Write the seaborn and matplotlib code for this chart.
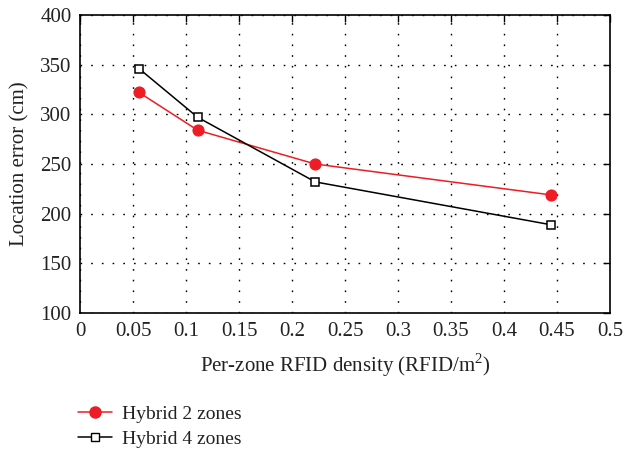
import matplotlib
matplotlib.use("Agg")
import matplotlib.pyplot as plt
import seaborn as sns
import pandas as pd

density = [0.0556, 0.111, 0.222, 0.444]
hybrid2 = [322, 284, 250, 219]
hybrid4 = [346, 297, 232, 189]
series_names = ["Hybrid 2 zones", "Hybrid 4 zones"]
xticks = [0, 0.05, 0.1, 0.15, 0.2, 0.25, 0.3, 0.35, 0.4, 0.45, 0.5]
xticklabels = ["0", "0.05", "0.1", "0.15", "0.2", "0.25", "0.3", "0.35", "0.4", "0.45", "0.5"]
yticks = [100, 150, 200, 250, 300, 350, 400]

df = pd.DataFrame({
    "x": density * 2,
    "y": hybrid2 + hybrid4,
    "series": [series_names[0]] * 4 + [series_names[1]] * 4,
})

sns.set_theme(style="white")
plt.rcParams["font.family"] = ["Liberation Serif", "DejaVu Serif"]
plt.rcParams["mathtext.fontset"] = "custom"
plt.rcParams["mathtext.rm"] = "Liberation Serif"

fig = plt.figure(figsize=(6.25, 4.5), dpi=100)
ax = fig.add_axes([0.128, 0.304, 0.848, 0.663])

sns.lineplot(data=df, x="x", y="y", hue="series", style="series",
             palette={series_names[0]: "#ee1c24", series_names[1]: "black"},
             markers={series_names[0]: "o", series_names[1]: "s"},
             dashes=False, ax=ax, linewidth=1.1, legend=False)
lines = ax.get_lines()
lines[0].set_markersize(8)
lines[0].set_markerfacecolor("#ee1c24")
lines[0].set_markeredgecolor("#ee1c24")
lines[1].set_markersize(6)
lines[1].set_markerfacecolor("white")
lines[1].set_markeredgecolor("black")
lines[1].set_markeredgewidth(1.1)

ax.set_xlim(0, 0.5)
ax.set_ylim(100, 400)
ax.set_xticks(xticks)
ax.set_xticklabels(xticklabels)
ax.set_yticks(yticks)
ax.grid(True, linestyle=(0, (1.2, 6.5)), color="black", linewidth=1.0)
ax.tick_params(direction="in", top=True, right=True, length=5, width=1,
               labelsize=15, colors="black", labelcolor="#222222", pad=6)
for s in ax.spines.values():
    s.set_color("black")
    s.set_linewidth(1.2)
ax.set_xlabel("Per-zone RFID density (RFID/m$^2$)", fontsize=15, color="#222222", labelpad=8)
ax.set_ylabel("Location error (cm)", fontsize=15, color="#222222", labelpad=8)

handles = [
    plt.Line2D([], [], color="#ee1c24", marker="o", markersize=8, linewidth=1.1),
    plt.Line2D([], [], color="black", marker="s", markersize=6, markerfacecolor="white", linewidth=1.1),
]
fig.legend(handles, series_names, loc="upper left", bbox_to_anchor=(0.112, 0.117),
           frameon=False, fontsize=14, handlelength=1.75, labelspacing=0.4,
           handletextpad=0.55, labelcolor="#222222", borderaxespad=0)

fig.savefig("out.png", dpi=100)
